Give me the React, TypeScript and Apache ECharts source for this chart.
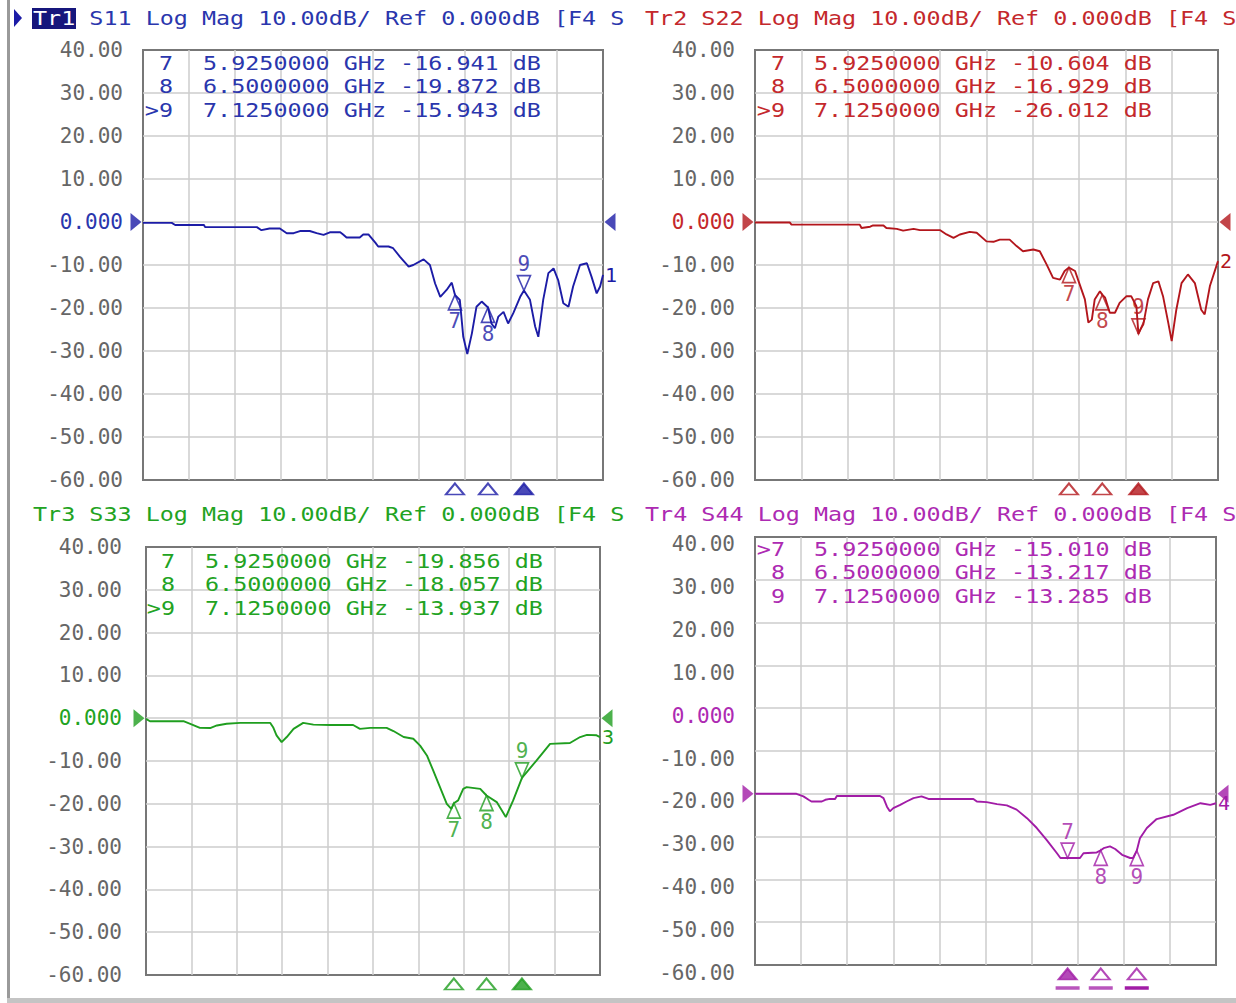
import React, { useEffect, useRef } from 'react';
import * as echarts from 'echarts';

// ---------- data ----------
const F_START = 0.5; // GHz
const F_STOP = 8.5; // GHz
const DIVS = 10;
const Y_LABEL_MIN = -60;
const Y_LABEL_MAX = 40;
const Y_STEP = 10;

const MARKER_NUM = [7, 8, 9];
const MARKER_FREQ = [5.925, 6.5, 7.125];
const S11_MARK = [-16.941, -19.872, -15.943];
const S22_MARK = [-10.604, -16.929, -26.012];
const S33_MARK = [-19.856, -18.057, -13.937];
const S44_MARK = [-15.01, -13.217, -13.285];

const S11: [number, number][] = [
  [0.5, -0.2], [1.0, -0.2], [1.06, -0.7], [1.56, -0.7], [1.58, -1.2], [2.48, -1.2],
  [2.56, -1.9], [2.7, -1.5], [2.88, -1.5], [3.0, -2.6], [3.12, -2.6], [3.23, -2.1],
  [3.4, -2.1], [3.52, -2.6], [3.64, -3.0], [3.75, -2.4], [3.93, -2.4], [3.98, -2.9],
  [4.04, -3.6], [4.27, -3.6], [4.33, -2.9], [4.42, -2.9], [4.54, -4.8], [4.59, -5.7],
  [4.77, -5.7], [4.85, -6.1], [4.97, -8.1], [5.12, -10.4], [5.2, -10.0], [5.38, -8.7],
  [5.49, -10.0], [5.58, -14.3], [5.67, -17.4], [5.78, -15.8], [5.87, -14.1], [5.925, -16.941],
  [6.01, -18.1], [6.07, -26.7], [6.14, -30.7], [6.22, -25.9], [6.3, -19.7], [6.39, -18.5],
  [6.5, -19.872], [6.56, -23.6], [6.62, -24.7], [6.68, -22.0], [6.77, -20.9], [6.85, -23.6],
  [6.94, -21.2], [7.06, -17.4], [7.125, -15.943], [7.23, -18.1], [7.32, -24.3], [7.375, -26.7],
  [7.46, -18.1], [7.55, -11.9], [7.64, -10.8], [7.72, -13.5], [7.81, -18.9], [7.9, -19.7],
  [7.98, -15.0], [8.1, -10.0], [8.22, -9.6], [8.3, -12.7], [8.39, -16.6], [8.45, -15.0], [8.5, -12.3],
];

const S22: [number, number][] = [
  [0.5, -0.1], [1.1, -0.1], [1.13, -0.6], [2.31, -0.6], [2.34, -1.4], [2.49, -1.1],
  [2.54, -0.8], [2.72, -0.8], [2.77, -1.4], [2.95, -1.6], [3.06, -2.0], [3.24, -1.6],
  [3.35, -1.9], [3.7, -1.9], [3.81, -2.9], [3.93, -3.7], [4.04, -2.9], [4.21, -2.3],
  [4.33, -2.5], [4.5, -4.5], [4.62, -4.6], [4.73, -4.1], [4.9, -4.1], [5.02, -5.6],
  [5.13, -6.8], [5.31, -6.4], [5.42, -6.8], [5.54, -9.9], [5.65, -13.0], [5.77, -13.4],
  [5.85, -11.4], [5.925, -10.604], [6.03, -11.4], [6.11, -14.5], [6.2, -18.0], [6.26, -23.4],
  [6.32, -22.7], [6.37, -18.0], [6.46, -16.1], [6.5, -16.929], [6.55, -17.6], [6.63, -21.1],
  [6.72, -21.1], [6.8, -18.8], [6.92, -17.25], [7.0, -17.25], [7.09, -19.6], [7.125, -26.012],
  [7.16, -25.0], [7.21, -23.8], [7.29, -18.0], [7.38, -14.2], [7.47, -13.8], [7.55, -17.25],
  [7.64, -23.4], [7.7, -27.7], [7.78, -20.4], [7.87, -14.2], [7.98, -12.2], [8.1, -14.2],
  [8.21, -20.4], [8.27, -21.5], [8.36, -14.9], [8.5, -9.1],
];

const S33: [number, number][] = [
  [0.5, -0.15], [0.57, -0.7], [1.16, -0.7], [1.28, -1.3], [1.45, -2.25], [1.63, -2.3],
  [1.75, -1.7], [1.92, -1.3], [2.16, -1.1], [2.69, -1.1], [2.74, -2.1], [2.8, -4.0],
  [2.89, -5.6], [2.98, -4.4], [3.1, -2.5], [3.27, -1.1], [3.45, -1.5], [3.74, -1.6],
  [4.15, -1.6], [4.27, -2.5], [4.45, -2.25], [4.74, -2.25], [4.86, -3.0], [5.04, -4.4],
  [5.21, -4.8], [5.33, -6.4], [5.45, -8.7], [5.56, -12.2], [5.68, -16.1], [5.8, -20.0],
  [5.88, -21.2], [5.925, -19.856], [6.0, -19.2], [6.09, -16.5], [6.15, -16.1], [6.39, -16.5],
  [6.5, -18.057], [6.68, -19.6], [6.84, -23.1], [6.97, -19.2], [7.125, -13.937], [7.38, -9.9],
  [7.62, -6.0], [7.97, -5.8], [8.15, -4.4], [8.27, -3.9], [8.44, -4.0], [8.5, -4.4],
];

const S44: [number, number][] = [
  [0.5, 0.0], [1.22, 0.0], [1.34, -0.6], [1.43, -1.4], [1.48, -1.8], [1.66, -1.8],
  [1.72, -1.4], [1.8, -1.2], [1.89, -1.2], [1.92, -0.5], [2.67, -0.5], [2.73, -1.0],
  [2.79, -3.0], [2.84, -4.1], [2.9, -3.35], [3.02, -2.6], [3.13, -1.8], [3.25, -1.0],
  [3.39, -0.6], [3.51, -1.2], [4.29, -1.2], [4.35, -1.8], [4.52, -1.95], [4.7, -2.4],
  [4.87, -2.7], [5.04, -3.7], [5.22, -5.7], [5.39, -8.0], [5.56, -10.75], [5.74, -13.9],
  [5.8, -15.0], [5.925, -15.01], [6.14, -15.0], [6.2, -13.9], [6.43, -13.7], [6.5, -13.217],
  [6.55, -12.7], [6.66, -12.3], [6.75, -12.9], [6.87, -14.25], [7.01, -15.0], [7.06, -15.0],
  [7.125, -13.285], [7.18, -10.4], [7.3, -8.0], [7.47, -5.9], [7.76, -4.9], [8.0, -3.35],
  [8.23, -2.2], [8.4, -2.6], [8.5, -2.2],
];

const TRACES = [
  { tr: 'Tr1', param: 'S11', line: '#1c1ca6', text: '#2a36ad', data: S11, marks: S11_MARK, active: 9, above: [false, false, true], end: '1', refPos: 0 },
  { tr: 'Tr2', param: 'S22', line: '#b3161c', text: '#c4282c', data: S22, marks: S22_MARK, active: 9, above: [false, false, true], end: '2', refPos: 0 },
  { tr: 'Tr3', param: 'S33', line: '#1f9e1f', text: '#22a322', data: S33, marks: S33_MARK, active: 9, above: [false, false, true], end: '3', refPos: 0 },
  { tr: 'Tr4', param: 'S44', line: '#a11ca6', text: '#ad2ab2', data: S44, marks: S44_MARK, active: 7, above: [true, false, false], end: '4', refPos: -20 },
];

// ---------- layout ----------
const LAYOUT = [
  { left: 143, top: 50, width: 460, height: 430, labelMargin: 20, headX: 33, headY: 18, numX: 173, freqX: 203, rowY: 63 },
  { left: 755, top: 50, width: 463, height: 430, labelMargin: 20, headX: 645, headY: 18, numX: 785, freqX: 814, rowY: 63 },
  { left: 146, top: 547, width: 454, height: 428, labelMargin: 24, headX: 33, headY: 514, numX: 175, freqX: 205, rowY: 561 },
  { left: 755, top: 537, width: 461, height: 428, labelMargin: 20, headX: 645, headY: 514, numX: 785, freqX: 814, rowY: 549 },
];
const TR4_LABEL_GRID = { left: 755, top: 544, width: 461, height: 429 };

const FONT = '"DejaVu Sans Mono", monospace';
const SX = 1.17;
const CHAR_W = 20 * 0.602 * SX;
const GRID_COLOR = '#cdcdcd';
const LABEL_GRAY = '#666666';

const UP_TRI = 'path://M6,0L12,11L0,11Z';
const DOWN_TRI = 'path://M0,0L12,0L6,11Z';
const RIGHT_TRI = 'path://M0,0L10,7L0,14Z';
const LEFT_TRI = 'path://M10,0L0,7L10,14Z';

const fmtTick = (v: number) => (Number(v) === 0 ? '0.000' : Number(v).toFixed(2));

export default function App() {
  const ref = useRef<HTMLDivElement>(null);

  useEffect(() => {
    const chart = echarts.init(ref.current!, null, { renderer: 'svg' });
    const grids: any[] = [];
    const xAxes: any[] = [];
    const yAxes: any[] = [];
    const series: any[] = [];
    const graphics: any[] = [];

    const txt = (x: number, y: number, text: string, fill: string, align = 'left', extra: any = {}) => ({
      type: 'text',
      x,
      y,
      scaleX: SX,
      silent: true,
      z: 20,
      style: { text, fill, fontFamily: FONT, fontSize: 20, align, verticalAlign: 'middle', ...extra },
    });

    TRACES.forEach((t, i) => {
      const L = LAYOUT[i];
      const yMin = Y_LABEL_MIN - t.refPos;
      const yMax = Y_LABEL_MAX - t.refPos;
      grids.push({
        left: L.left, top: L.top, width: L.width, height: L.height,
        show: true, backgroundColor: '#ffffff', borderColor: '#777777', borderWidth: 2,
      });
      // division axis (vertical grid lines)
      xAxes.push({
        type: 'value', gridIndex: i, min: 0, max: DIVS, interval: 1,
        axisLabel: { show: false }, axisTick: { show: false }, axisLine: { show: false },
        splitLine: { show: true, showMinLine: false, showMaxLine: false, lineStyle: { color: GRID_COLOR, width: 1.5 } },
      });
      // frequency axis (data)
      xAxes.push({ type: 'value', gridIndex: i, min: F_START, max: F_STOP, show: false });
      yAxes.push({
        type: 'value', gridIndex: i, min: yMin, max: yMax, interval: Y_STEP,
        axisLine: { show: false }, axisTick: { show: false },
        splitLine: { show: true, showMinLine: false, showMaxLine: false, lineStyle: { color: GRID_COLOR, width: 1.5 } },
        axisLabel: {
          show: t.refPos === 0,
          showMinLabel: true, showMaxLabel: true,
          margin: L.labelMargin,
          fontFamily: FONT, fontSize: 21,
          formatter: fmtTick,
          color: (v: any) => (Number(v) === 0 ? t.text : LABEL_GRAY),
        },
      });

      series.push({
        type: 'line', name: t.param, xAxisIndex: 2 * i + 1, yAxisIndex: i,
        data: t.data, symbol: 'none', showSymbol: false, silent: true, z: 3,
        lineStyle: { color: t.line, width: 1.9 },
        itemStyle: { color: t.line },
        endLabel: { show: true, formatter: t.end, color: t.line, fontFamily: FONT, fontSize: 20, distance: 2 },
      });

      // markers on trace
      series.push({
        type: 'scatter', xAxisIndex: 2 * i + 1, yAxisIndex: i, silent: true, clip: false, z: 5,
        symbolSize: [13, 15],
        itemStyle: { color: 'rgba(255,255,255,0)', borderColor: t.line, borderWidth: 1.7 },
        data: MARKER_FREQ.map((f, k) => ({
          value: [f, t.marks[k]],
          symbol: t.above[k] ? DOWN_TRI : UP_TRI,
          symbolOffset: t.above[k] ? [0, -7.5] : [0, 7.5],
          label: {
            show: true, formatter: String(MARKER_NUM[k]), position: t.above[k] ? 'top' : 'bottom',
            distance: 0, color: t.line, fontFamily: FONT, fontSize: 21,
          },
        })),
      });

      // reference-level triangles and bottom marker indicators
      const deco: any[] = [
        { value: [F_START, 0], symbol: RIGHT_TRI, symbolSize: [11, 18], symbolOffset: [-7, 0], itemStyle: { color: t.line } },
        { value: [F_STOP, 0], symbol: LEFT_TRI, symbolSize: [11, 18], symbolOffset: [7, 0], itemStyle: { color: t.line } },
      ];
      MARKER_FREQ.forEach((f, k) => {
        const act = MARKER_NUM[k] === t.active;
        deco.push({
          value: [f, yMin], symbol: UP_TRI, symbolSize: [18, 11], symbolOffset: [0, 9],
          itemStyle: { color: act ? t.line : '#ffffff', borderColor: t.line, borderWidth: 2 },
        });
        if (t.refPos !== 0) {
          deco.push({
            value: [f, yMin], symbol: 'rect', symbolSize: [24, 3.5], symbolOffset: [0, 23],
            itemStyle: { color: t.line, opacity: k === 2 ? 1 : 0.75 },
          });
        }
      });
      series.push({
        type: 'scatter', xAxisIndex: 2 * i + 1, yAxisIndex: i, silent: true, clip: false, z: 6,
        data: deco,
      });

      // header
      if (i === 0) {
        graphics.push({ type: 'polygon', silent: true, z: 19, shape: { points: [[14, 9], [22, 18], [14, 27]] }, style: { fill: t.line } });
        graphics.push({ type: 'rect', silent: true, z: 19, shape: { x: 32, y: 8, width: 44, height: 21 }, style: { fill: '#16167c' } });
        graphics.push(txt(L.headX, L.headY, t.tr, '#ffffff'));
      } else {
        graphics.push(txt(L.headX, L.headY, t.tr, t.text));
      }
      graphics.push(txt(L.headX + 3 * CHAR_W, L.headY, ` ${t.param} Log Mag 10.00dB/ Ref 0.000dB [F4 S`, t.text));

      // marker table
      MARKER_FREQ.forEach((f, k) => {
        const y = L.rowY + k * 23.5;
        const num = (MARKER_NUM[k] === t.active ? '>' : '') + MARKER_NUM[k];
        graphics.push(txt(L.numX, y, num, t.text, 'right'));
        graphics.push(txt(L.freqX, y, `${f.toFixed(7)} GHz ${t.marks[k].toFixed(3)} dB`, t.text));
      });
    });

    // Tr4 tick labels (drawn offset from its grid, as on the instrument)
    const t4 = TRACES[3];
    grids.push({ ...TR4_LABEL_GRID, show: false });
    xAxes.push({ type: 'value', gridIndex: 4, min: 0, max: 1, show: false });
    yAxes.push({
      type: 'value', gridIndex: 4, min: Y_LABEL_MIN, max: Y_LABEL_MAX, interval: Y_STEP,
      axisLine: { show: false }, axisTick: { show: false }, splitLine: { show: false },
      axisLabel: {
        showMinLabel: true, showMaxLabel: true, margin: 20, fontFamily: FONT, fontSize: 21,
        formatter: fmtTick, color: (v: any) => (Number(v) === 0 ? t4.text : LABEL_GRAY),
      },
    });

    // window frame
    graphics.push({ type: 'rect', silent: true, z: 30, shape: { x: 7, y: 0, width: 3, height: 1003 }, style: { fill: '#9a9a9a' } });
    graphics.push({ type: 'rect', silent: true, z: 30, shape: { x: 7, y: 998, width: 1229, height: 5 }, style: { fill: '#c4c4c4' } });

    chart.setOption({
      animation: false,
      backgroundColor: '#ffffff',
      grid: grids,
      xAxis: xAxes,
      yAxis: yAxes,
      series,
      graphic: graphics,
    });

    return () => chart.dispose();
  }, []);

  return (
    <div
      ref={ref}
      style={{ position: 'absolute', left: 0, top: 0, width: 1236, height: 1003, background: '#fff' }}
    />
  );
}
